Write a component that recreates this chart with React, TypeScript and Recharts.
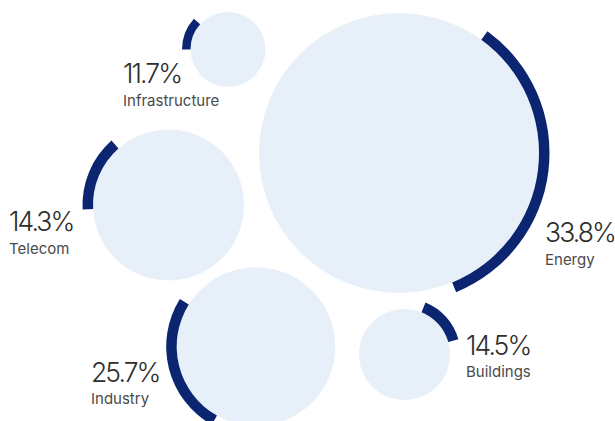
import { ScatterChart, Scatter, XAxis, YAxis, Sector } from 'recharts'

const W = 615
const H = 421

const categories = ['Energy', 'Industry', 'Buildings', 'Telecom', 'Infrastructure']
const shares = [33.8, 25.7, 14.5, 14.3, 11.7]
// bubble radius in layout units
const bubbleSize = [140, 79.3, 45.5, 75.5, 37.5]
// angle the ring starts at (deg, 0 = east, ccw); it runs clockwise for share * 3.6 deg
const arcStart = [54, 240.5, 68, 183, 180]

// packed layout: bubble centres and label offsets from the centre
const layout: Record<string, { x: number; y: number; lx: number; ly: number }> = {
  Energy: { x: 399, y: 153, lx: 146, ly: 89 },
  Industry: { x: 256, y: 346.6, lx: -165, ly: 35 },
  Buildings: { x: 404.5, y: 354.5, lx: 61.5, ly: 0 },
  Telecom: { x: 168.5, y: 205, lx: -159.5, ly: 26 },
  Infrastructure: { x: 228, y: 49.5, lx: -105, ly: 33.5 },
}

const FILL = '#e7f0f8'
const RING = '#0b2570'

const rows = categories.map((name, i) => ({
  name,
  share: shares[i],
  size: bubbleSize[i],
  arcStart: arcStart[i],
  x: layout[name].x,
  y: layout[name].y,
}))

const k = W / W // px per layout unit (axis domain == chart size)

function Bubble(props: any) {
  const { cx, cy, payload } = props
  const r = payload.size * k
  const ring = r < 40 ? 8.5 : 10.5
  const start = payload.arcStart
  const end = start - payload.share * 3.6
  const l = layout[payload.name]
  const tx = cx + l.lx
  const ty = cy + l.ly
  return (
    <g>
      <circle cx={cx} cy={cy} r={r} fill={FILL} />
      <Sector cx={cx} cy={cy} innerRadius={r} outerRadius={r + ring} startAngle={start} endAngle={end} fill={RING} />
      <text x={tx} y={ty} fill="#2e2e2e" fontSize={26.5} fontWeight={300} letterSpacing={-1.9} fontFamily="Inter, Roboto, sans-serif">
        {payload.share.toFixed(1)}%
      </text>
      <text x={tx} y={ty + 22.5} fill="#4a4a4a" fontSize={15} fontFamily="Inter, Roboto, sans-serif">
        {payload.name}
      </text>
    </g>
  )
}

export default function App() {
  return (
    <div style={{ position: 'fixed', top: 0, left: 0, width: W, height: H, background: '#fff' }}>
      <ScatterChart width={W} height={H} margin={{ top: 0, right: 0, bottom: 0, left: 0 }}>
        <XAxis type="number" dataKey="x" domain={[0, W]} hide />
        <YAxis type="number" dataKey="y" domain={[0, H]} reversed hide />
        <Scatter data={rows} shape={Bubble} isAnimationActive={false} />
      </ScatterChart>
    </div>
  )
}
